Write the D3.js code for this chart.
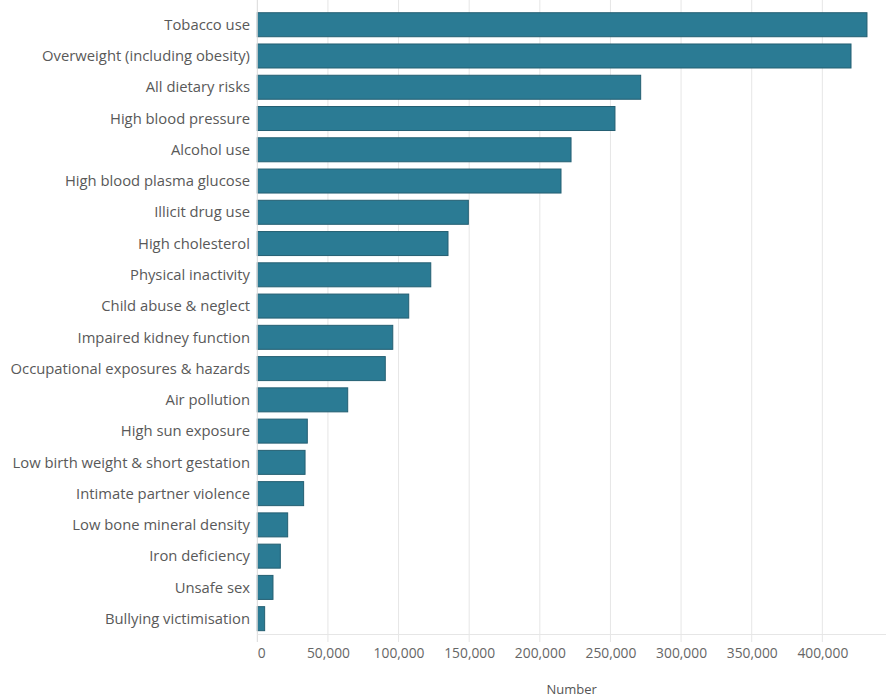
<!DOCTYPE html>
<html>
<head>
<meta charset="utf-8">
<script src="https://cdn.jsdelivr.net/npm/d3@7"></script>
<style>
  html, body { margin: 0; padding: 0; background: #fff; }
  svg { display: block; }
</style>
</head>
<body>
<svg id="chart" width="886" height="697"></svg>
<script>
const categories = [
  "Tobacco use",
  "Overweight (including obesity)",
  "All dietary risks",
  "High blood pressure",
  "Alcohol use",
  "High blood plasma glucose",
  "Illicit drug use",
  "High cholesterol",
  "Physical inactivity",
  "Child abuse & neglect",
  "Impaired kidney function",
  "Occupational exposures & hazards",
  "Air pollution",
  "High sun exposure",
  "Low birth weight & short gestation",
  "Intimate partner violence",
  "Low bone mineral density",
  "Iron deficiency",
  "Unsafe sex",
  "Bullying victimisation"
];
const values = [
  431600, 420300, 271400, 253200, 222100, 215000, 149400, 135000, 122800, 107200,
  95900, 90600, 64000, 35400, 33800, 32800, 21500, 16300, 11100, 5200
];
const tickValues = [0, 50000, 100000, 150000, 200000, 250000, 300000, 350000, 400000];
const axisTitle = "Number";

const svg = d3.select("#chart");
const x0 = 257.3, x1 = 885.9;
const x = d3.scaleLinear().domain([0, 445000]).range([x0, x1]);
const y = d3.scaleBand().domain(categories).range([9.1, 634.3]).paddingInner(0.232).paddingOuter(0.116);
const font = "'Open Sans', 'Noto Sans', sans-serif";

// gridlines
svg.append("g").selectAll("line").data(tickValues.filter(d => d > 0)).join("line")
  .attr("x1", d => x(d)).attr("x2", d => x(d))
  .attr("y1", 0).attr("y2", 642)
  .attr("stroke", "#e6e6e6").attr("stroke-width", 1);

// bars
svg.append("g").selectAll("rect").data(categories).join("rect")
  .attr("x", x(0))
  .attr("y", d => y(d))
  .attr("width", (d, i) => x(values[i]) - x(0))
  .attr("height", y.bandwidth())
  .attr("fill", "#2b7b94")
  .attr("stroke", "#245f72")
  .attr("stroke-width", 1);

// zero line and baseline
svg.append("line").attr("x1", x0).attr("x2", x0).attr("y1", 0).attr("y2", 642)
  .attr("stroke", "#d9d9d9");
svg.append("line").attr("x1", x0).attr("x2", 886).attr("y1", 634.5).attr("y2", 634.5)
  .attr("stroke", "#e6e6e6");

// category labels
svg.append("g").selectAll("text").data(categories).join("text")
  .attr("x", 250)
  .attr("y", d => y(d) + y.bandwidth() / 2)
  .attr("dy", "0.35em")
  .attr("text-anchor", "end")
  .attr("font-family", font)
  .attr("font-size", 14.8)
  .attr("fill", "#595959")
  .text(d => d);

// x axis
const axis = d3.axisBottom(x).tickValues(tickValues).tickSize(0).tickFormat(d3.format(","));
const gx = svg.append("g").attr("transform", "translate(0,645)").call(axis);
gx.select(".domain").remove();
gx.selectAll("text")
  .attr("font-family", font)
  .attr("font-size", 13.8)
  .attr("fill", "#666")
  .attr("dy", "0.71em");
gx.selectAll(".tick").filter(d => d === 0).select("text").attr("dx", "4");

svg.append("text")
  .attr("x", (x0 + x1) / 2)
  .attr("y", 689)
  .attr("dy", "0.35em")
  .attr("text-anchor", "middle")
  .attr("font-family", font)
  .attr("font-size", 13)
  .attr("fill", "#555")
  .text(axisTitle);
</script>
</body>
</html>
